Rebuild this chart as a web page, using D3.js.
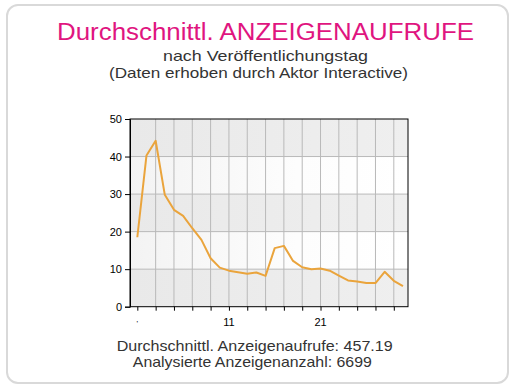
<!DOCTYPE html>
<html><head><meta charset="utf-8">
<script src="https://cdn.jsdelivr.net/npm/d3@7/dist/d3.min.js"></script>
<style>
html,body{margin:0;padding:0;background:#fff;}
svg{display:block;font-family:"Liberation Sans",Arial,sans-serif;}
</style></head>
<body><svg id="c" width="516" height="390"></svg>
<script>
const days = d3.range(1, 31);
const views = [18.5, 40.3, 44.2, 29.8, 25.8, 24.2, 20.9, 17.8, 12.9, 10.4, 9.6, 9.2, 8.8, 9.1, 8.2, 15.6, 16.2, 12.2, 10.5, 10.0, 10.2, 9.6, 8.3, 7.0, 6.7, 6.3, 6.3, 9.3, 6.9, 5.5];
const yTicks = [0, 10, 20, 30, 40, 50];
const xGridDays = [1, 3, 5, 7, 9, 11, 13, 15, 17, 19, 21, 23, 25, 27, 29];
const xLabelDays = [1, 11, 21];
const xLabelText = ["'", "11", "21"];
const titleLines = ["Durchschnittl. ANZEIGENAUFRUFE", "nach Veröffentlichungstag", "(Daten erhoben durch Aktor Interactive)"];
const footerLines = ["Durchschnittl. Anzeigenaufrufe: 457.19", "Analysierte Anzeigenanzahl: 6699"];

const svg = d3.select("#c");
// card
svg.append("rect").attr("x", 7).attr("y", 5).attr("width", 501).attr("height", 378)
  .attr("rx", 11).attr("fill", "#fff").attr("stroke", "#d9d9d9").attr("stroke-width", 2);

function txt(cx, by, size, color, len, s) {
  svg.append("text").attr("x", cx).attr("y", by).attr("text-anchor", "middle")
    .attr("font-size", size).attr("fill", color)
    .attr("textLength", len).attr("lengthAdjust", "spacingAndGlyphs").text(s);
}
// titles
txt(265.5, 40, 23, "#e0157f", 417, titleLines[0]);
txt(265.5, 61, 14.5, "#333", 205, titleLines[1]);
txt(258.5, 78, 15, "#333", 299, titleLines[2]);

const L = 130, R = 408, T = 119, B = 306.7;
const x = d3.scaleLinear().domain([0.2, 30.55]).range([L, R]);
const y = d3.scaleLinear().domain([0, 50]).range([B, T]);

const defs = svg.append("defs");
const g1 = defs.append("linearGradient").attr("id", "gGray");
g1.append("stop").attr("offset", "0%").attr("stop-color", "#e9e9e9");
g1.append("stop").attr("offset", "100%").attr("stop-color", "#efefef");
const g2 = defs.append("linearGradient").attr("id", "gWhite");
g2.append("stop").attr("offset", "0%").attr("stop-color", "#f3f3f3");
g2.append("stop").attr("offset", "60%").attr("stop-color", "#fdfdfd");
g2.append("stop").attr("offset", "100%").attr("stop-color", "#ffffff");

const bands = d3.range(0, 5);
svg.append("g").selectAll("rect").data(bands).join("rect")
  .attr("x", L).attr("width", R - L)
  .attr("y", d => y(yTicks[d + 1])).attr("height", d => y(yTicks[d]) - y(yTicks[d + 1]))
  .attr("fill", d => d % 2 === 0 ? "url(#gGray)" : "url(#gWhite)");

// grid
svg.append("g").selectAll("line").data(xGridDays.filter(d => d > 1)).join("line")
  .attr("x1", d => x(d)).attr("x2", d => x(d)).attr("y1", T).attr("y2", B)
  .attr("stroke", "#b9b9b9").attr("stroke-width", 1);
svg.append("g").selectAll("line").data(yTicks.filter(v => v > 0 && v < 50)).join("line")
  .attr("x1", L).attr("x2", R).attr("y1", d => y(d)).attr("y2", d => y(d))
  .attr("stroke", "#b9b9b9").attr("stroke-width", 1);

// frame
svg.append("rect").attr("x", L).attr("y", T).attr("width", R - L).attr("height", B - T)
  .attr("fill", "none").attr("stroke", "#000").attr("stroke-width", 1);

// y axis
const yAxis = d3.axisLeft(y).tickValues(yTicks).tickSize(5).tickPadding(3);
const ya = svg.append("g").attr("transform", `translate(${L},0)`).call(yAxis);
ya.select(".domain").attr("stroke", "#000");
ya.selectAll("text").attr("font-size", 11).attr("fill", "#000").attr("font-family", "\"Liberation Sans\",Arial,sans-serif");

// x axis ticks
const xAxis = d3.axisBottom(x).tickValues(xGridDays).tickSize(4).tickFormat("");
const xa = svg.append("g").attr("transform", `translate(0,${B})`).call(xAxis);
xa.select(".domain").remove();
xa.selectAll("line").attr("stroke", "#000");
svg.append("g").selectAll("text").data(xLabelDays).join("text")
  .attr("x", d => x(d)).attr("y", B + 19).attr("text-anchor", "middle")
  .attr("font-size", (d, i) => i === 0 ? 8 : 11).attr("fill", "#000")
  .text((d, i) => xLabelText[i]);

// line
const line = d3.line().x((d, i) => x(days[i])).y(d => y(d));
svg.append("path").datum(views).attr("d", line).attr("fill", "none")
  .attr("stroke", "#eaa43c").attr("stroke-width", 2).attr("stroke-linejoin", "round");

// footer
txt(254.7, 351, 15, "#333", 276, footerLines[0]);
txt(252.3, 367, 15, "#333", 239, footerLines[1]);
</script></body></html>
